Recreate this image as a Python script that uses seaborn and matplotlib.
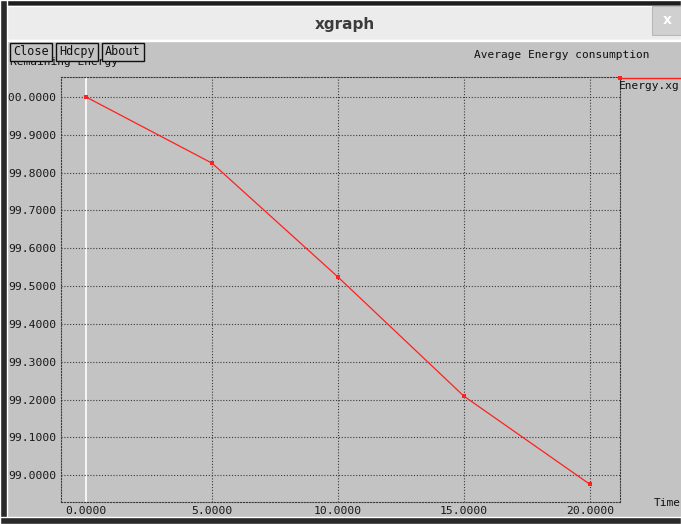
import matplotlib
matplotlib.use("Agg")
import matplotlib.pyplot as plt
import matplotlib.patches as mpatches
import seaborn as sns
import pandas as pd

# data
time = [0, 5, 10, 15, 20]
energy = [100.0, 99.825, 99.524, 99.209, 98.976]
x_ticks = [0, 5, 10, 15, 20]
y_ticks = [99.0, 99.1, 99.2, 99.3, 99.4, 99.5, 99.6, 99.7, 99.8, 99.9, 100.0]

df = pd.DataFrame({"Time": time, "Energy": energy})

W, H = 681, 524
bg = "#c3c3c3"
mono = "DejaVu Sans Mono"

sns.set_style("white")

fig = plt.figure(figsize=(W / 100, H / 100), dpi=100, facecolor=bg)


def fx(px):
    return px / W


def fy(py):
    return 1 - py / H


def rect(x0, y0, x1, y1, color, z=5, **kw):
    fig.patches.append(mpatches.Rectangle((fx(x0), fy(y1)), fx(x1) - fx(x0), fy(y0) - fy(y1),
                                          transform=fig.transFigure, facecolor=color,
                                          zorder=z, **kw))


# plot area
ax = fig.add_axes([fx(61), fy(502), fx(620) - fx(61), fy(77) - fy(502)])
ax.set_facecolor(bg)
ax.set_xlim(-1.0, 21.2)
ax.set_ylim(98.929, 100.053)

dots = (0, (1, 1.6))
for t in x_ticks:
    if t == 0:
        ax.axvline(t, color="white", lw=1.2, zorder=1)
    else:
        ax.axvline(t, color="#3a3a3a", lw=0.8, ls=dots, zorder=1)
for v in y_ticks:
    ax.axhline(v, color="#3a3a3a", lw=0.8, ls=dots, zorder=1)

sns.lineplot(data=df, x="Time", y="Energy", ax=ax, color="#ff2020", lw=0.9,
             marker="s", markersize=3.5, markeredgewidth=0, zorder=3)

ax.set_xticks(x_ticks)
ax.set_yticks(y_ticks)
ax.set_xticklabels([f"{t:.4f}" for t in x_ticks], fontfamily=mono, fontsize=8.2)
ax.set_yticklabels([f"{v:.4f}" for v in y_ticks], fontfamily=mono, fontsize=8.2)
ax.tick_params(length=0, pad=3, colors="#181818")
ax.set_xlabel("")
ax.set_ylabel("")
for s in ax.spines.values():
    s.set_linestyle(dots)
    s.set_color("#3a3a3a")
    s.set_linewidth(0.8)

# window decoration
rect(0, 0, W, 6, "#1e1e1e", z=10)
rect(0, 6, W, 40, "#ececec", z=10)
rect(0, 40, W, 41, "#a8a8a8", z=10)
rect(0, 0, 7, H, "#2a2a2a", z=10)
rect(0, 517, W, H, "#2a2a2a", z=10)
rect(652, 6, W, 35, "#d0d0d0", z=11, edgecolor="#b8b8b8", linewidth=0.8)
fig.text(fx(345), fy(24), "xgraph", ha="center", va="center", fontsize=11,
         fontweight="bold", color="#3c3c3c", zorder=12)
fig.text(fx(667), fy(20), "x", ha="center", va="center", fontsize=10,
         fontweight="bold", color="white", zorder=12)

# label partly hidden under the buttons
fig.text(fx(10), fy(62), "Remaining Energy", ha="left", va="center",
         fontfamily=mono, fontsize=8, color="#101010", zorder=6)
for label, x0, x1 in [("Close", 10, 52), ("Hdcpy", 56, 98), ("About", 102, 144)]:
    rect(x0, 42.5, x1, 60.5, bg, z=13, edgecolor="#101010", linewidth=1)
    fig.text(fx((x0 + x1) / 2), fy(51.5), label, ha="center", va="center",
             fontfamily=mono, fontsize=8.5, color="#101010", zorder=14)

fig.text(fx(474), fy(55), "Average Energy consumption", ha="left", va="center",
         fontfamily=mono, fontsize=8, color="#101010")
fig.text(fx(654), fy(503), "Time", ha="left", va="center",
         fontfamily=mono, fontsize=8, color="#101010")

# legend entry
fig.lines.append(plt.Line2D([fx(620), fx(W)], [fy(78), fy(78)], transform=fig.transFigure,
                            color="#ff2020", lw=1.0, marker="s", markevery=[0],
                            markersize=3.5, markeredgewidth=0))
fig.text(fx(619), fy(86), "Energy.xg", ha="left", va="center",
         fontfamily=mono, fontsize=8, color="#101010")

fig.savefig("out.png", dpi=100, facecolor=bg)
